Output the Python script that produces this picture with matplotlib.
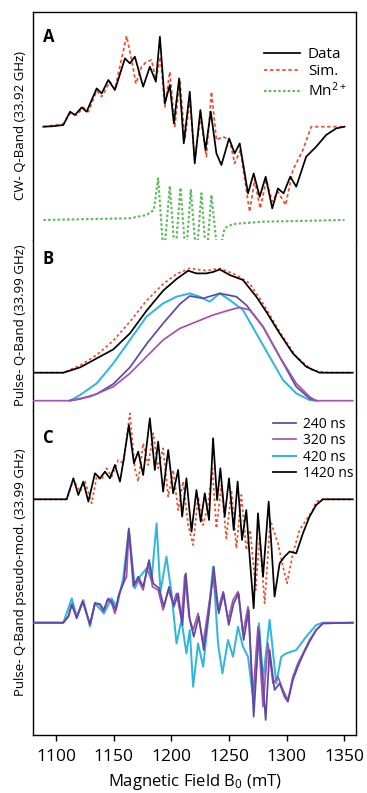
import numpy as np
import matplotlib
matplotlib.use("Agg")
import matplotlib.pyplot as plt

plt.rcParams["font.family"] = ["Open Sans", "DejaVu Sans"]
plt.rcParams["mathtext.fontset"] = "custom"
plt.rcParams["mathtext.rm"] = "Open Sans"
plt.rcParams["mathtext.it"] = "Open Sans"

# --- DATA (field in mT, intensity in arbitrary units) ---
a_data = [(1089, 0), (1097.7, 0.5), (1106.3, 1.7), (1112.1, 15), (1116.4, 11.7), (1122.2, 19.3),
          (1126.5, 15), (1135.2, 38.3), (1139.5, 33.3), (1145.3, 46.7), (1151, 36.7), (1159.7, 68.3),
          (1164, 63.3), (1168.3, 70), (1175.5, 40), (1181.3, 60), (1186.5, 45), (1190, 90),
          (1194.3, 23.3), (1198.6, 41.7), (1202.1, 3.3), (1206.7, 48.3), (1210.7, -16.7), (1215.9, 35),
          (1220.2, -36.7), (1225.1, 16.7), (1229.5, -23.3), (1234.1, 15), (1239, -26.7), (1243.3, -38.3),
          (1250, -11.7), (1254.8, -26.7), (1259.2, -16.7), (1266.4, -66.7), (1271.3, -46.7), (1276.5, -70),
          (1281.7, -50), (1287.4, -81.7), (1292.3, -61.7), (1297.2, -66.7), (1303, -50), (1308.2, -60),
          (1316.8, -30), (1325.5, -20), (1334.1, -8.3), (1342.8, -1.7), (1350, 0)]
a_sim = [(1089, 0), (1106.3, 2.7), (1112.1, 13.3), (1117.9, 11.7), (1123.6, 19.3), (1128, 15),
         (1135.2, 36), (1139.5, 30), (1146.7, 45), (1151, 37.3), (1161.1, 90.7), (1165.5, 66.7),
         (1169.2, 43), (1174.1, 60), (1178.4, 65), (1182.8, 66.7), (1186.5, 46.7), (1190.5, 70),
         (1194.3, 20), (1198.6, 55), (1202.9, 0), (1207.3, 46.7), (1211.6, -13.3), (1215.9, 26.7),
         (1220.2, -33.3), (1225.1, 10), (1230.3, -30), (1234.7, 35), (1239, -13.3), (1244.8, -10),
         (1250.5, -13.3), (1254.8, -36.7), (1259.7, -23.3), (1267.8, -85), (1272.1, -53.3), (1277, -81.7),
         (1282.2, -53.3), (1287.4, -75), (1292.3, -65), (1299, -78.3), (1305.3, -43.3), (1314, -23.3),
         (1321.2, 0), (1350, 0)]
a_mn = [(1089, 0), (1164, 1.7), (1178.4, 5), (1184.8, 10), (1188.5, 41.7), (1193.4, -38),
        (1198.6, 34), (1203.2, -38), (1207.8, 32.3), (1212.5, -38), (1216.8, 30), (1221.7, -38),
        (1226, 26.7), (1230.3, -39), (1234.7, 25), (1240.4, -39), (1246.2, -8), (1253.4, -4),
        (1279.4, -1.7), (1350, 0)]

b_data = [(1080.4, 0), (1106.3, 0), (1120.8, 5.3), (1135.2, 14.3), (1149.6, 23.3), (1164, 39.3),
          (1178.4, 62), (1192.8, 82), (1204.4, 93.7), (1214.5, 102), (1221.7, 99.3), (1230.3, 99.3),
          (1236.1, 100.7), (1241.9, 103.3), (1250.5, 97.7), (1262, 92.7), (1273.6, 76), (1282.2, 61),
          (1293.8, 39.3), (1305.3, 19.3), (1316.8, 6), (1328.4, 0), (1357.2, 0)]
b_sim = [(1086.2, 0), (1106.3, 0), (1120.8, 7.3), (1135.2, 17.7), (1149.6, 32), (1164, 51),
         (1178.4, 72), (1192.8, 88.7), (1204.4, 98.7), (1215.9, 104.3), (1230.3, 102), (1241.9, 104.3),
         (1256.3, 97.7), (1267.8, 89.3), (1279.4, 69.3), (1293.8, 41), (1308.2, 16), (1322.6, 2),
         (1337, 0), (1354.3, 0)]
b_320 = [(1080.4, 0), (1110.7, 0), (1129.4, 4), (1149.6, 14), (1164, 27.3), (1178.4, 44),
         (1192.8, 60.7), (1207.3, 72.3), (1221.7, 79), (1236.1, 85.7), (1250.5, 90.7), (1259.2, 93.3),
         (1267.8, 90.7), (1279.4, 74), (1293.8, 44), (1308.2, 17.3), (1319.7, 4), (1325.5, 0), (1357.2, 0)]
b_420 = [(1112.1, 0), (1120.8, 5.7), (1135.2, 17.3), (1149.6, 37.3), (1164, 60.7), (1178.4, 84),
         (1192.8, 97.3), (1204.4, 104), (1215.9, 107.3), (1224.6, 104), (1233.2, 99), (1241.9, 107.3),
         (1250.5, 100.7), (1262, 90.7), (1273.6, 67.3), (1285.1, 44), (1296.7, 20.7), (1308.2, 7.3),
         (1319.7, 0.7), (1325.5, 0)]
b_240 = [(1112.1, 0), (1120.8, 1.7), (1135.2, 6.7), (1149.6, 16.7), (1164, 33.3), (1178.4, 56.7),
         (1192.8, 77.3), (1207.3, 96.7), (1215.9, 104.7), (1227.5, 102.3), (1241.9, 107.3), (1256.3, 104),
         (1264.9, 95.7), (1279.4, 74), (1293.8, 44), (1308.2, 14), (1319.7, 2.3), (1325.5, 0)]

c_1420 = [(1080.4, 0), (1109.2, 0), (1115, 21), (1119.3, 4.3), (1123.6, 17.7), (1128, -2.3),
          (1133.7, 26), (1138.1, 21), (1142.4, 27.7), (1146.7, 21), (1151, 34.3), (1155.4, 17.7),
          (1158.8, 41), (1163.1, 74.3), (1167.5, 36), (1171.2, 47.7), (1175.5, 24.3), (1181.3, 81),
          (1185.6, 29.3), (1188.5, 57.7), (1192.8, 7.7), (1197.2, 49.3), (1201.5, 6), (1205.8, 29.3),
          (1209.3, -17.3), (1213, 21), (1217.4, -32.3), (1221.7, 9.3), (1225.4, -22.3), (1228.9, 6),
          (1232.6, -20.7), (1236.1, 61), (1239.6, -0.7), (1242.4, 31), (1246.2, -17.3), (1249.9, 21),
          (1254, -30.7), (1257.4, 17.7), (1261.2, -40.7), (1264.9, -10.7), (1267.8, -57.3), (1271.3, -109),
          (1275, -14), (1279.4, -77.3), (1284.3, -2.3), (1289.4, -97.3), (1293.8, -64), (1298.1, -57.3),
          (1302.4, -52.3), (1308.2, -54), (1314, -34), (1319.7, -17.3), (1325.5, -5.7), (1331.3, 0),
          (1357.2, 0)]
c_sim = [(1080.4, 0), (1109.2, 0), (1115, 19.3), (1120.8, 7.7), (1125.1, 17.7), (1130.9, -4),
         (1135.2, 22.7), (1139.5, 19.3), (1143.8, 31), (1148.2, 22.7), (1153.9, 39.3), (1158.2, 36),
         (1164, 86), (1168.3, 31), (1171.2, 17.7), (1175.5, 56), (1179.9, 34.3), (1184.2, 66),
         (1188.5, 31), (1192.8, 51), (1197.2, 2.7), (1201.5, 29.3), (1205.8, -10.7), (1210.1, 17.7),
         (1214.5, -25.7), (1218.8, -45.7), (1223.1, 2.7), (1227.5, -25.7), (1231.8, -5.7), (1235.5, 31),
         (1239, -29), (1243.3, 14.3), (1247.6, -39), (1252, 9.3), (1256.3, -49), (1260.6, 4.3),
         (1264.9, -50.7), (1268.3, -30.7), (1273, -90.7), (1276.5, -37.3), (1280.8, -104), (1285.7, -20.7),
         (1292.3, -44), (1296.7, -67.3), (1300.2, -84), (1305.3, -54), (1311.1, -30.7), (1316.8, -20.7),
         (1322.6, -10.7), (1325.5, -2.3), (1331.3, 0), (1357.2, 0)]
c_320 = [(1080.4, 0), (1106.3, 0), (1110.7, 6), (1113.6, 17.7), (1117.9, 6), (1123.1, 22),
         (1126.5, 9.3), (1129.4, -2.3), (1133.7, 20), (1138.1, 17.7), (1140.9, 11), (1144.4, 22.7),
         (1148.2, 19.3), (1151, 9.3), (1153.9, 26), (1158.2, 39.3), (1161.1, 46), (1163.1, 92.7),
         (1166.9, 36), (1171.2, 42.7), (1175.5, 32.7), (1179.9, 59.3), (1183.6, 36), (1188.5, 32.7),
         (1192.8, 12.7), (1197.2, 32.7), (1201.5, 19.3), (1204.4, 29.3), (1208.7, 2.7), (1211.6, 47.7),
         (1215.3, 6), (1218.8, -7.3), (1223.1, 9.3), (1227.5, -20.7), (1231.8, 12.7), (1236.1, 46),
         (1240.4, 12.7), (1244.8, 31), (1249.1, 2.7), (1253.4, 22.7), (1257.7, 31), (1262, -10.7),
         (1266.4, 16), (1270.7, -74), (1275, -4), (1279.4, -84), (1283.7, -20.7), (1288, -60.7),
         (1292.3, -54), (1296.7, -67.3), (1301, -77.3), (1305.3, -54), (1309.6, -40.7), (1314, -30.7),
         (1319.7, -17.3), (1325.5, -7.3), (1331.3, -0.7), (1357.2, 0)]
c_240 = [(1080.4, 0), (1106.3, 0), (1110.7, 6.7), (1113.6, 18.7), (1117.9, 4.3), (1123.1, 21),
         (1126.5, 8.7), (1129.4, -1.3), (1133.7, 19.3), (1138.1, 18.7), (1141.5, 12.7), (1145.3, 24.3),
         (1148.2, 21), (1151.9, 12.7), (1154.8, 29.3), (1158.8, 41), (1163.1, 94.3), (1167.5, 37.7),
         (1171.2, 46), (1175.5, 36), (1180.7, 62.7), (1184.2, 39.3), (1189.4, 34.3), (1193.4, 16),
         (1198, 36), (1202.1, 16), (1205.8, 29.3), (1209.6, -2.3), (1212.5, 49.3), (1215.9, 2.7),
         (1219.4, -14), (1223.7, 6), (1228, -27.3), (1232.4, 9.3), (1236.7, 56), (1241, 9.3),
         (1245.3, 29.3), (1249.7, -2.3), (1254, 19.3), (1258.3, 29.3), (1262.6, -17.3), (1267, 12.7),
         (1271.3, -94), (1275.9, -7.3), (1281.7, -97.3), (1285.1, -27.3), (1289.4, -67.3), (1293.8, -60.7),
         (1298.1, -74), (1301, -79), (1305.3, -57.3), (1309.6, -44), (1314, -32.3), (1319.7, -19),
         (1325.5, -7.3), (1331.3, -0.7), (1357.2, 0)]
c_420 = [(1080.4, 0), (1106.3, 0), (1113.6, 24.3), (1117.9, 6), (1123.6, 22.7), (1129.4, -4),
         (1133.7, 19.3), (1141.5, 9.3), (1148.2, 24.3), (1152.5, 16), (1158.2, 44.3), (1163.1, 92.7),
         (1168.3, 34.3), (1172.7, 46), (1178.4, 54.3), (1182.8, 42.7), (1187.1, 99.3), (1190.5, 31),
         (1195.7, 66), (1200.1, 29.3), (1204.4, -20.7), (1208.7, 2.7), (1213, -30.7), (1215.9, -7.3),
         (1218.8, -64), (1223.1, -20.7), (1227.5, -44), (1231.8, 2.7), (1236.1, 56), (1240.4, -20.7),
         (1244.2, -50.7), (1249.1, -17.3), (1253.4, -34), (1257.7, -4), (1262, -24), (1266.4, -34),
         (1271.3, -80.7), (1275.9, -0.7), (1279.4, -57.3), (1285.1, 2.7), (1290.9, -60.7), (1295.2, -34),
         (1299.5, -30.7), (1308.2, -27.3), (1316.8, -14), (1325.5, -2.3), (1331.3, 0), (1357.2, 0)]

x_ticks = [1100, 1150, 1200, 1250, 1300, 1350]
panel_labels = ["A", "B", "C"]
y_labels = ["CW- Q-Band (33.92 GHz)", "Pulse- Q-Band (33.99 GHz)",
            "Pulse- Q-Band pseudo-mod. (33.99 GHz)"]

# --- STYLE ---
RED = "#e8502e"
GREEN = "#62bb60"
C240 = "#5a4aa6"
C320 = "#a653ad"
C420 = "#33b6dc"
LW = 1.25


def xy(pairs):
    arr = np.array(pairs, dtype=float)
    return arr[:, 0], arr[:, 1]


def trace(ax, pairs, base, **kw):
    x, y = xy(pairs)
    return ax.plot(x, base + y, solid_joinstyle="round", **kw)[0]


fig = plt.figure(figsize=(3.67, 7.93), dpi=100)
gs = fig.add_gridspec(3, 1, height_ratios=[228, 170, 325], hspace=0,
                      left=33 / 367, right=356 / 367, top=1 - 12 / 793, bottom=1 - 735 / 793)
axA = fig.add_subplot(gs[0])
axB = fig.add_subplot(gs[1], sharex=axA)
axC = fig.add_subplot(gs[2], sharex=axA)

# panel A
hA1 = trace(axA, a_data, -126.7, color="black", lw=LW, zorder=3)
hA2 = trace(axA, a_sim, -126.7, color=RED, lw=LW, ls=(0, (2, 1.5)), zorder=2)
hA3 = trace(axA, a_mn, -220, color=GREEN, lw=LW + 0.3, ls=(0, (1.2, 1.0)), clip_on=False, zorder=2)
axA.set_ylim(-240, -12)
axA.legend([hA1, hA2, hA3], ["Data", "Sim.", "Mn$^{2+}$"], loc="upper left",
           bbox_to_anchor=(0.69, 0.88), frameon=False, fontsize=11, handlelength=2.4,
           handletextpad=0.5, labelspacing=0.15, borderpad=0)

# panel B
trace(axB, b_sim, -372.7, color=RED, lw=LW, ls=(0, (1.5, 1.5)), zorder=2)
trace(axB, b_data, -372.7, color="black", lw=LW, zorder=3)
trace(axB, b_420, -400.7, color=C420, lw=LW + 0.2, zorder=2)
trace(axB, b_240, -400.7, color=C240, lw=LW, zorder=3)
trace(axB, b_320, -400.7, color=C320, lw=LW, zorder=4)
axB.set_ylim(-410, -240)

# panel C
trace(axC, c_sim, -499.3, color=RED, lw=LW, ls=(0, (1.5, 1.5)), zorder=2, clip_on=False)
trace(axC, c_1420, -499.3, color="black", lw=LW, zorder=3)
hC3 = trace(axC, c_420, -622.7, color=C420, lw=LW + 0.2, zorder=2)
hC2 = trace(axC, c_320, -622.7, color=C320, lw=LW, zorder=3)
hC1 = trace(axC, c_240, -622.7, color=C240, lw=LW, zorder=4)
axC.set_ylim(-735, -410)
hC4 = axC.plot([], [], color="black", lw=LW)[0]
axC.legend([hC1, hC2, hC3, hC4], ["240 ns", "320 ns", "420 ns", "1420 ns"], loc="upper left",
           bbox_to_anchor=(0.72, 1.0), frameon=False, fontsize=10, handlelength=1.7,
           handletextpad=0.5, labelspacing=0.1, borderpad=0)

axC.set_xlim(1080, 1360)
axC.set_xticks(x_ticks)
axC.tick_params(axis="x", direction="out", length=4, width=1, labelsize=12.5, pad=6)
axC.set_xlabel("Magnetic Field B$_0$ (mT)", fontsize=12, labelpad=5)

for i, ax in enumerate([axA, axB, axC]):
    ax.set_yticks([])
    for s in ax.spines.values():
        s.set_linewidth(1.0)
    if i > 0:
        ax.spines["top"].set_visible(False)
    if i < 2:
        ax.spines["bottom"].set_visible(False)
        ax.tick_params(axis="x", bottom=False, labelbottom=False)
    ax.set_ylabel(y_labels[i], fontsize=9.5, labelpad=4)

axA.text(0.03, 0.93, panel_labels[0], transform=axA.transAxes, fontsize=12,
         fontweight="bold", va="top", ha="left")
axB.text(0.03, 0.94, panel_labels[1], transform=axB.transAxes, fontsize=12,
         fontweight="bold", va="top", ha="left")
axC.text(0.03, 0.94, panel_labels[2], transform=axC.transAxes, fontsize=12,
         fontweight="bold", va="top", ha="left")

fig.savefig("out.png", dpi=100)
